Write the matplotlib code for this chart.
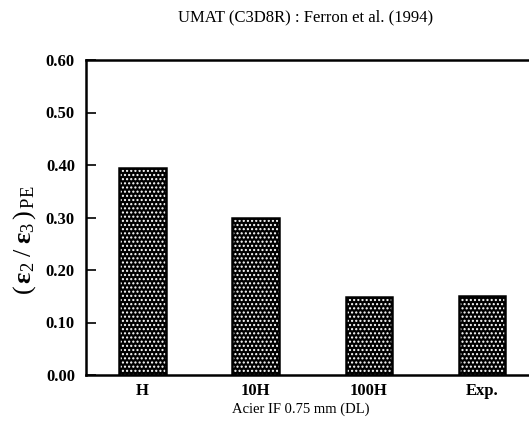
import matplotlib
matplotlib.use("Agg")
import matplotlib.pyplot as plt

categories = ["H", "10H", "100H", "Exp."]
ratios = [0.395, 0.300, 0.148, 0.150]
yticks = [0.00, 0.10, 0.20, 0.30, 0.40, 0.50, 0.60]

plt.rcParams["font.family"] = ["Liberation Serif", "DejaVu Serif"]
plt.rcParams["mathtext.fontset"] = "custom"
plt.rcParams["mathtext.rm"] = "Liberation Serif"
plt.rcParams["mathtext.it"] = "Liberation Serif:italic"
plt.rcParams["mathtext.bf"] = "Liberation Serif:bold"
plt.rcParams["hatch.linewidth"] = 1.0

W, H = 529, 429
fig = plt.figure(figsize=(W / 100, H / 100), dpi=100)
# axes run past the right edge of the figure
ax = fig.add_axes([86 / W, 1 - 375 / H, (538.5 - 86) / W, (375 - 60) / H])

x = range(len(categories))
ax.bar(x, ratios, width=0.41, color="black", hatch="....",
       edgecolor="white", linewidth=0, zorder=2)
ax.bar(x, ratios, width=0.41, color="none", edgecolor="black",
       linewidth=1.8, zorder=3)

ax.set_xlim(-0.5, 3.5)
ax.set_ylim(0, 0.6)
ax.set_yticks(yticks)
ax.set_yticklabels([f"{v:.2f}" for v in yticks], fontsize=12, fontweight="bold")
ax.set_xticks(list(x))
ax.set_xticklabels(categories, fontsize=12, fontweight="bold")
ax.tick_params(axis="y", direction="in", length=7, width=1.2, pad=8)
ax.tick_params(axis="x", length=0, pad=6)

for side in ("left", "bottom", "top"):
    ax.spines[side].set_linewidth(1.8)
ax.spines["right"].set_visible(False)

fig.text(306 / W, 1 - 17 / H, "UMAT (C3D8R) : Ferron et al. (1994)",
         ha="center", va="center", fontsize=12)
fig.text(301 / W, 1 - 409 / H, "Acier IF 0.75 mm (DL)",
         ha="center", va="center", fontsize=10.5)
fig.text(25 / W, 1 - 240 / H,
         r"$(\,\mathbf{ε}_{2}\;/\;\mathbf{ε}_{3}\,)_{\,\mathrm{PE}}$",
         rotation=90, ha="center", va="center", fontsize=19)

fig.savefig("out.png", dpi=100)
